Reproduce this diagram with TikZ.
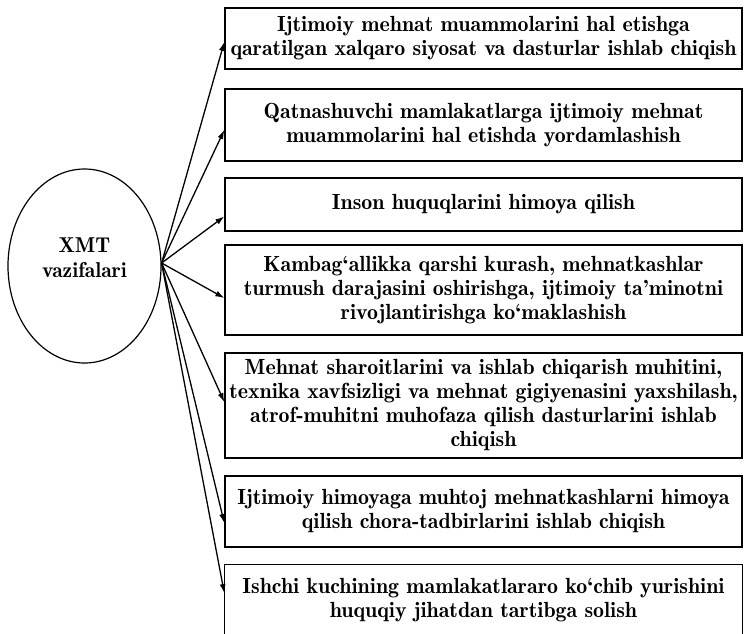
\documentclass[tikz,border=0pt]{standalone}
\usepackage{fontspec}
\setmainfont{lmromandemi10-regular}[Extension=.otf]
\usetikzlibrary{shapes.geometric,arrows.meta}
\begin{document}
\begin{tikzpicture}[x=1pt,y=-1pt,
  task/.style={draw,line width=1.4pt,minimum width=517pt,align=center,inner sep=0pt,
    font=\fontsize{21.9}{24}\selectfont},
  link/.style={line width=1.3pt,-{Latex[length=9pt,width=6pt]}}]
\useasboundingbox (0,0) rectangle (751,633);
\node[draw,ellipse,line width=1.2pt,minimum width=153pt,minimum height=194pt,inner sep=0pt] (e) at (84.5,266) {};
\node[align=center,inner sep=0pt,font=\fontsize{21.5}{25}\selectfont] (et) at (84.5,258) {XMT\\vazifalari};
\node[task,minimum height=61pt] (b1) at (483.5,38.5) {Ijtimoiy mehnat muammolarini hal etishga\\qaratilgan xalqaro siyosat va dasturlar ishlab chiqish};
\node[task,minimum height=72pt] (b2) at (483.5,125) {Qatnashuvchi mamlakatlarga ijtimoiy mehnat\\muammolarini hal etishda yordamlashish};
\node[task,minimum height=53pt] (b3) at (483.5,204.5) {Inson huquqlarini himoya qilish};
\node[task,minimum height=90pt] (b4) at (483.5,290) {Kambag‘allikka qarshi kurash, mehnatkashlar\\turmush darajasini oshirishga, ijtimoiy ta’minotni\\rivojlantirishga ko‘maklashish};
\node[task,minimum height=105pt] (b5) at (483.5,405.5) {Mehnat sharoitlarini va ishlab chiqarish muhitini,\\texnika xavfsizligi va mehnat gigiyenasini yaxshilash,\\atrof-muhitni muhofaza qilish dasturlarini ishlab\\chiqish};
\node[task,minimum height=71pt] (b6) at (483.5,511.5) {Ijtimoiy himoyaga muhtoj mehnatkashlarni himoya\\qilish chora-tadbirlarini ishlab chiqish};
\node[task,draw=none,minimum height=71pt] (b7) at (483.5,600.5) {Ishchi kuchining mamlakatlararo ko‘chib yurishini\\huquqiy jihatdan tartibga solish};
\draw[line width=1.4pt] ([yshift=-10pt]b7.south west) -- (b7.north west) -- (b7.north east) -- ([yshift=-10pt]b7.south east);
\coordinate (o) at ([yshift=3pt]e.east);
\draw[link] (o) -- ([yshift=-3.5pt]b1.west);
\draw[link] (o) -- ([yshift=-5pt]b2.west);
\draw[link] (o) -- ([yshift=-12pt]b3.west);
\draw[link] (o) -- ([yshift=-8pt]b4.west);
\draw[link] (o) -- ([yshift=3.5pt]b5.west);
\draw[link] (o) -- ([yshift=-11.5pt]b6.west);
\draw[link] (o) -- ([yshift=7.5pt]b7.west);
\end{tikzpicture}
\end{document}
